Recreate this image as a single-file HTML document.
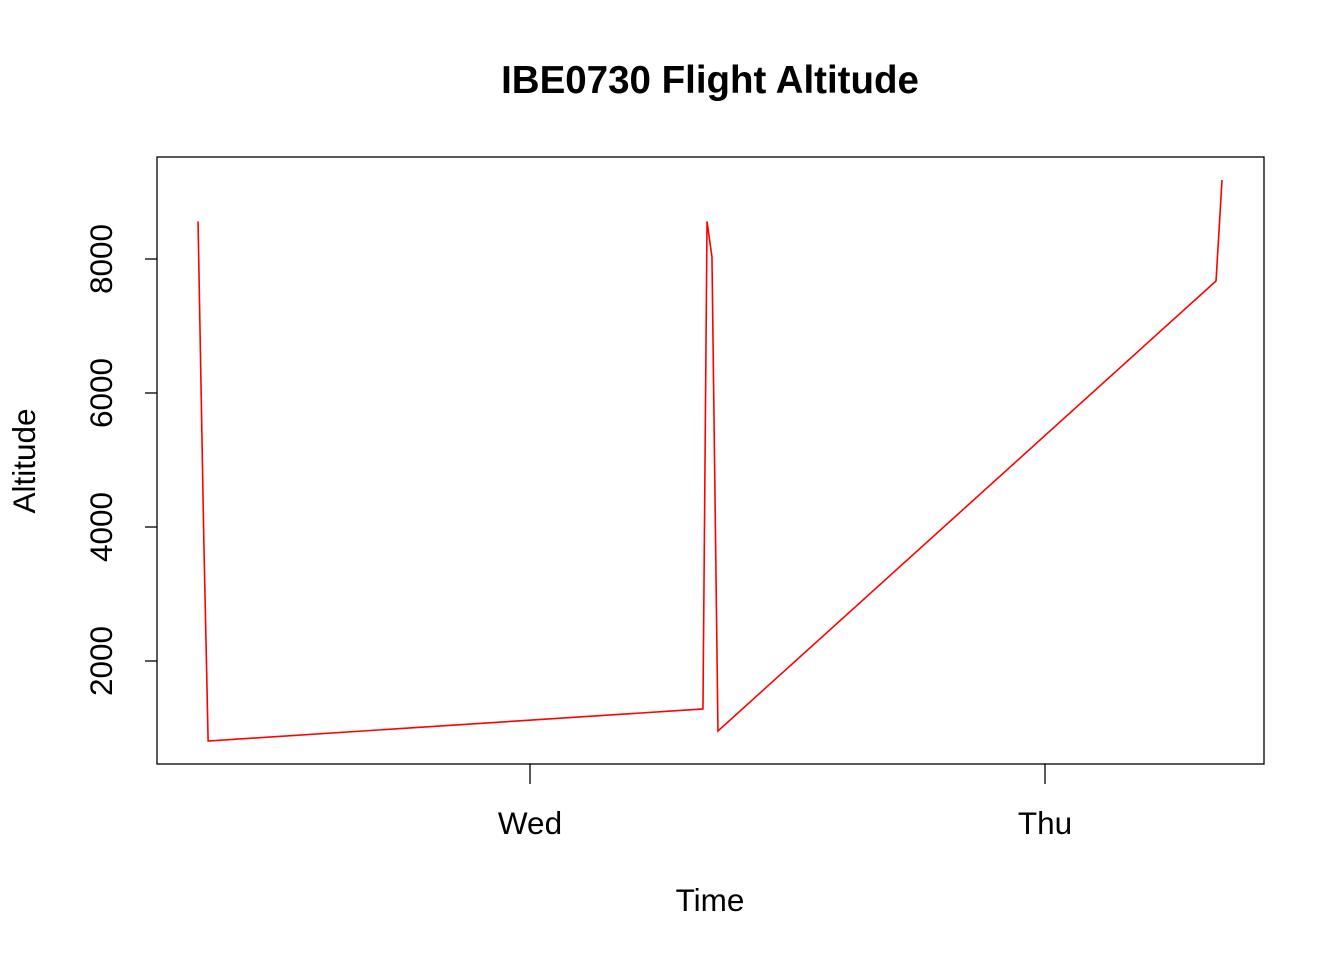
<!DOCTYPE html>
<html><head><meta charset="utf-8"><style>
body{margin:0;background:#fff}
svg text{font-family:"Liberation Sans",Arial,sans-serif;fill:#000}
</style></head><body>
<svg id="chart" width="1344" height="960" xmlns="http://www.w3.org/2000/svg">
<text x="710" y="93" font-size="38.5" font-weight="bold" text-anchor="middle">IBE0730 Flight Altitude</text>
<rect x="157" y="157" width="1107" height="607" fill="none" stroke="#000" stroke-width="1.3"/>
<text x="710" y="911" font-size="31.5" text-anchor="middle">Time</text>
<text transform="translate(35,461) rotate(-90)" font-size="31.5" text-anchor="middle">Altitude</text>
<g id="axes"></g>
<polyline id="series" fill="none" stroke="#ff0000" stroke-width="1.6"/>
</svg>
<script>
const hours = [-15.47, -15.2, -15.0, 8.06, 8.25, 8.48, 8.76, 31.97, 32.25];
const altitudes = [8560, 3800, 806, 1284, 8560, 8030, 955, 7672, 9180];
const yTicks = [2000, 4000, 6000, 8000];
const xTickHours = [0, 24];
const xTickLabels = ["Wed", "Thu"];

const ns = "http://www.w3.org/2000/svg";
const xs = h => 530 + h * 515 / 24;
const ys = v => 661 - (v - 2000) * 0.067;
const axes = document.getElementById('axes');
function mk(tag, attrs, text){const e=document.createElementNS(ns,tag);for(const k in attrs)e.setAttribute(k,attrs[k]);if(text!=null)e.textContent=text;axes.appendChild(e);return e;}
yTicks.forEach(v=>{
  const y=ys(v);
  const t=mk('line',{x1:145,x2:157,y1:y,y2:y,stroke:'#000','stroke-width':1.3});
  
  
  const l=mk('text',{transform:`translate(112,${y}) rotate(-90)`,'font-size':31.5,'text-anchor':'middle'},String(v));
  
  
});
xTickHours.forEach((h,i)=>{
  const x=xs(h);
  const t=mk('line',{x1:x,x2:x,y1:764,y2:784,stroke:'#000','stroke-width':1.3});
  
  
  const l=mk('text',{x:x,y:834,'font-size':31.5,'text-anchor':'middle'},xTickLabels[i]);
  
  
});
document.getElementById('series').setAttribute('points', hours.map((h,i)=>xs(h)+','+ys(altitudes[i])).join(' '));
</script>
</body></html>
